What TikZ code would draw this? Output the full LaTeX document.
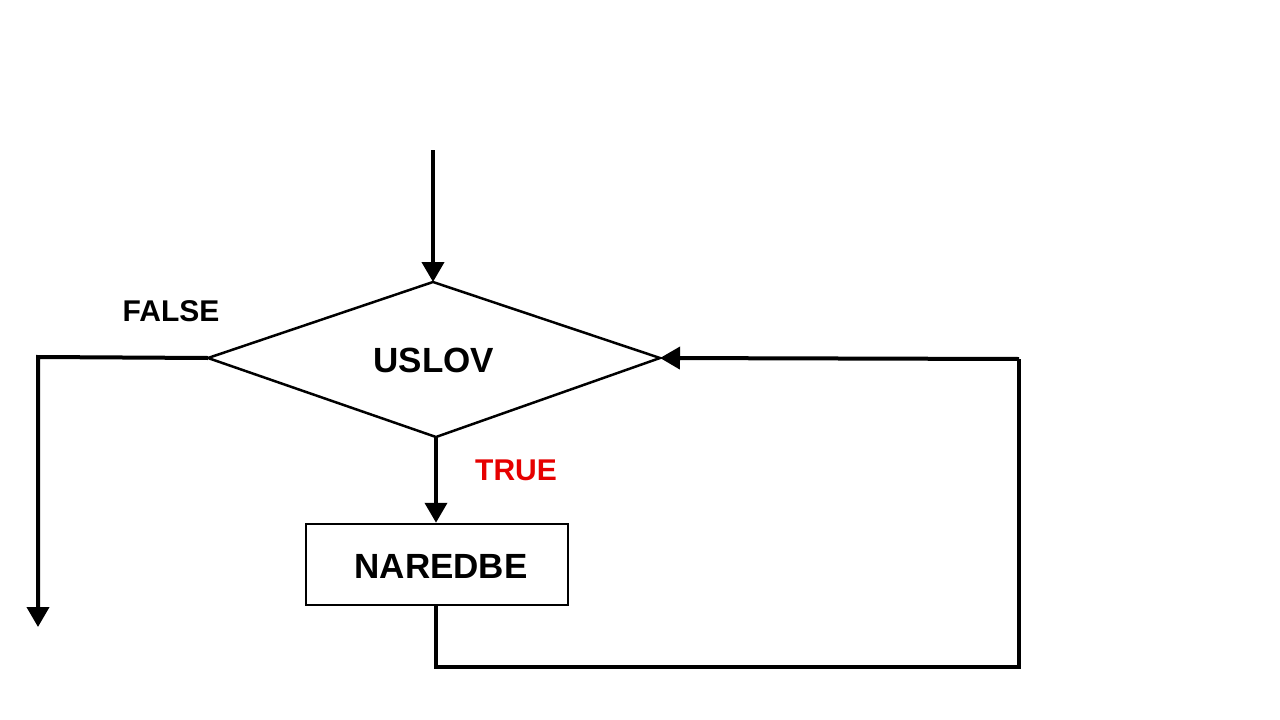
\documentclass[tikz,border=0pt]{standalone}
\usepackage{fontspec}
\setmainfont{Liberation Sans}
\usetikzlibrary{arrows.meta}
\begin{document}
\begin{tikzpicture}[x=1pt,y=-1pt,
  outl/.style={draw,line width=2.5pt},
  conn/.style={line width=4pt},
  arr/.style={conn,-{Triangle[length=20pt,width=22pt]}},
  lbl/.style={font=\bfseries\fontsize{30}{34}\selectfont}]
\useasboundingbox (0,0) rectangle (1280,720);
\coordinate (dt) at (433,282);
\coordinate (dl) at (208,358);
\coordinate (dr) at (660,358);
\coordinate (db) at (436,437);
\draw[outl,line join=miter] (dt) -- (dr) -- (db) -- (dl) -- cycle;
\node[lbl,font=\bfseries\fontsize{35}{40}\selectfont] (uslov) at (434,360) {USLOV};
\node[outl,minimum width=262pt,minimum height=81pt,inner sep=0pt] (box) at (437,564.5) {};
\node[lbl,font=\bfseries\fontsize{35}{40}\selectfont] (nar) at (441,566) {NAREDBE};
\node[lbl,text=black] (false) at (171,311) {FALSE};
\node[lbl,text={rgb,255:red,230;green,0;blue,0}] (true) at (516,470) {TRUE};
\coordinate (in) at (433,150);
\coordinate (fl) at (38,357);
\coordinate (fe) at (38,627);
\coordinate (b1) at (436,667);
\coordinate (b2) at (1019,667);
\coordinate (b3) at (1019,359);
\draw[arr] (in) -- (dt);
\draw[arr] (db) -- (box.north -| db);
\draw[arr] (dl) -- (fl) -- (fe);
\draw[conn] (box.south -| b1) -- (b1) -- (b2) -- (b3);
\draw[arr] (b3) -- (dr);
\end{tikzpicture}
\end{document}
